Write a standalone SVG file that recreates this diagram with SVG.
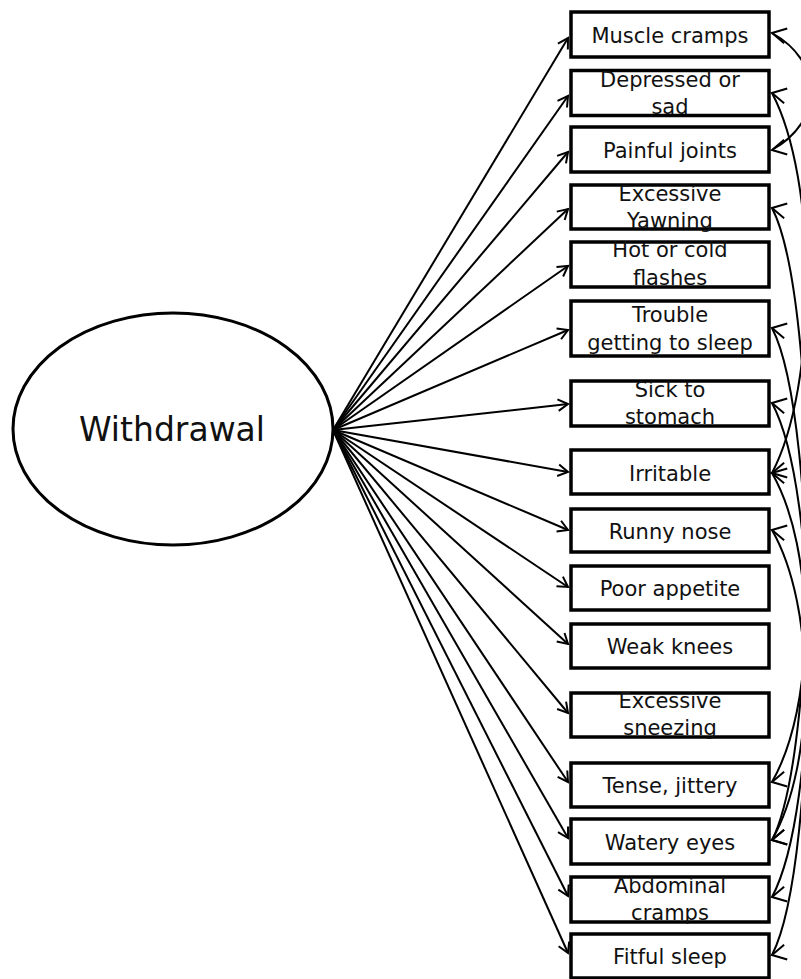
<svg xmlns="http://www.w3.org/2000/svg" width="801" height="979" viewBox="0 0 801 979">
<style>
  .box{fill:#fff;stroke:#000;stroke-width:3.5}
  .lbl{font-family:"DejaVu Sans","Open Sans",sans-serif;font-size:21px;fill:#111;text-anchor:middle}
  .big{font-family:"DejaVu Sans","Open Sans",sans-serif;font-size:33px;fill:#111;text-anchor:middle}
  .ln{fill:none;stroke:#000;stroke-width:2}
  .cv{fill:none;stroke:#000;stroke-width:2;marker-start:url(#covA);marker-end:url(#covB)}
</style>
<defs>
  <marker id="arr" markerUnits="userSpaceOnUse" markerWidth="24" markerHeight="24" refX="0" refY="0" viewBox="-12 -12 24 24" orient="auto" overflow="visible">
    <path d="M-10,-5.8 L0,0 L-10,5.8" fill="none" stroke="#000" stroke-width="2"/>
  </marker>
  <marker id="covA" markerUnits="userSpaceOnUse" markerWidth="34" markerHeight="34" refX="0" refY="0" viewBox="-17 -17 34 34" orient="192" overflow="visible">
    <path d="M-14,-7.5 L0,0 L-14,7.5" fill="none" stroke="#000" stroke-width="2"/>
  </marker>
  <marker id="covB" markerUnits="userSpaceOnUse" markerWidth="34" markerHeight="34" refX="0" refY="0" viewBox="-17 -17 34 34" orient="168" overflow="visible">
    <path d="M-14,-7.5 L0,0 L-14,7.5" fill="none" stroke="#000" stroke-width="2"/>
  </marker>
</defs>
<rect width="801" height="979" fill="#fff"/>

<g id="connectors">
  <g marker-end="url(#arr)" class="ln">
    <path class="ln" d="M333,430 L568,38"/>
    <path class="ln" d="M333,430 L568,96"/>
    <path class="ln" d="M333,430 L568,152"/>
    <path class="ln" d="M333,430 L568,209"/>
    <path class="ln" d="M333,430 L568,266"/>
    <path class="ln" d="M333,430 L568,330"/>
    <path class="ln" d="M333,430 L568,404"/>
    <path class="ln" d="M333,430 L568,472"/>
    <path class="ln" d="M333,430 L568,530"/>
    <path class="ln" d="M333,430 L568,587"/>
    <path class="ln" d="M333,430 L568,644"/>
    <path class="ln" d="M333,430 L568,713"/>
    <path class="ln" d="M333,430 L568,782"/>
    <path class="ln" d="M333,430 L568,838"/>
    <path class="ln" d="M333,430 L568,896"/>
    <path class="ln" d="M333,430 L568,953"/>
  </g>
  <path class="cv" d="M772,33 C824,62 824,121 772,150"/>
  <path class="cv" d="M772,93 C818,180 818,386 772,473"/>
  <path class="cv" d="M772,208 C820,300 820,748 772,840"/>
  <path class="cv" d="M772,328 C820,420 820,863 772,955"/>
  <path class="cv" d="M772,403 C820,493 820,807 772,897"/>
  <path class="cv" d="M772,473 C816,550 816,705 772,782"/>
  <path class="cv" d="M772,530 C816,607 816,763 772,840"/>
</g>

<g id="withdrawal">
  <ellipse cx="173" cy="429" rx="160" ry="116" fill="#fff" stroke="#000" stroke-width="3"/>
  <text class="big" x="172" y="441">Withdrawal</text>
</g>

<g id="muscle-cramps"><rect class="box" x="571" y="12" width="198" height="45"/><text class="lbl" x="670" y="43">Muscle cramps</text></g>
<g id="depressed"><rect class="box" x="571" y="70.5" width="198" height="45"/><text class="lbl" x="670" y="86.5">Depressed or</text><text class="lbl" x="670" y="113.5">sad</text></g>
<g id="painful-joints"><rect class="box" x="571" y="127" width="198" height="45"/><text class="lbl" x="670" y="158">Painful joints</text></g>
<g id="yawning"><rect class="box" x="571" y="185" width="198" height="44"/><text class="lbl" x="670" y="200.5">Excessive</text><text class="lbl" x="670" y="228">Yawning</text></g>
<g id="hot-cold"><rect class="box" x="571" y="242" width="198" height="45"/><text class="lbl" x="670" y="257">Hot or cold</text><text class="lbl" x="670" y="285">flashes</text></g>
<g id="trouble-sleep"><rect class="box" x="571" y="301" width="198" height="55"/><text class="lbl" x="670" y="322">Trouble</text><text class="lbl" x="670" y="350">getting to sleep</text></g>
<g id="sick-stomach"><rect class="box" x="571" y="381" width="198" height="45"/><text class="lbl" x="670" y="397">Sick to</text><text class="lbl" x="670" y="424">stomach</text></g>
<g id="irritable"><rect class="box" x="571" y="450" width="198" height="44"/><text class="lbl" x="670" y="480.5">Irritable</text></g>
<g id="runny-nose"><rect class="box" x="571" y="509" width="198" height="43"/><text class="lbl" x="670" y="539">Runny nose</text></g>
<g id="poor-appetite"><rect class="box" x="571" y="566" width="198" height="44"/><text class="lbl" x="670" y="596">Poor appetite</text></g>
<g id="weak-knees"><rect class="box" x="571" y="624" width="198" height="44"/><text class="lbl" x="670" y="654">Weak knees</text></g>
<g id="sneezing"><rect class="box" x="571" y="693" width="198" height="44"/><text class="lbl" x="670" y="708">Excessive</text><text class="lbl" x="670" y="735">sneezing</text></g>
<g id="tense-jittery"><rect class="box" x="571" y="763" width="198" height="44"/><text class="lbl" x="670" y="793">Tense, jittery</text></g>
<g id="watery-eyes"><rect class="box" x="571" y="819" width="198" height="45"/><text class="lbl" x="670" y="850">Watery eyes</text></g>
<g id="abdominal-cramps"><rect class="box" x="571" y="877" width="198" height="45"/><text class="lbl" x="670" y="893">Abdominal</text><text class="lbl" x="670" y="920">cramps</text></g>
<g id="fitful-sleep"><rect class="box" x="571" y="934" width="198" height="44"/><text class="lbl" x="670" y="964">Fitful sleep</text></g>
</svg>
